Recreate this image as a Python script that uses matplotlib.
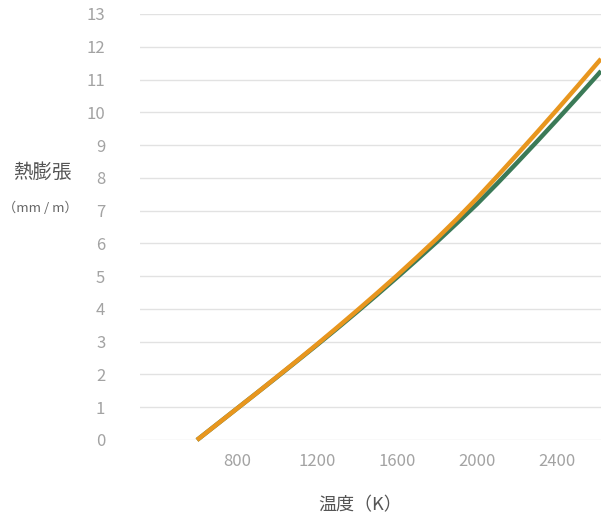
import matplotlib
matplotlib.use("Agg")
import matplotlib.pyplot as plt

plt.rcParams['font.family'] = ['Noto Sans CJK JP', 'DejaVu Sans']

# temperature (K) and thermal expansion (mm/m)
temps = [600, 700, 800, 900, 1000, 1100, 1200, 1300, 1400, 1500, 1600,
         1700, 1800, 1900, 2000, 2100, 2200, 2300, 2400, 2500, 2600, 2620]
green_vals = [0, 0.48, 0.96, 1.44, 1.92, 2.41, 2.90, 3.40, 3.91, 4.43, 4.96,
              5.50, 6.05, 6.62, 7.20, 7.82, 8.46, 9.11, 9.77, 10.44, 11.12, 11.26]
orange_vals = [0, 0.48, 0.96, 1.44, 1.93, 2.42, 2.92, 3.43, 3.95, 4.48, 5.02,
               5.58, 6.15, 6.75, 7.38, 8.04, 8.71, 9.39, 10.08, 10.78, 11.49, 11.63]

x_ticks = [800, 1200, 1600, 2000, 2400]
y_ticks = list(range(0, 14))

GREEN = '#3b7a57'
ORANGE = '#e8961e'
TICK_GRAY = '#a3a3a3'

fig = plt.figure(figsize=(6.01, 5.20), dpi=100)
ax = fig.add_axes([140 / 601, (520 - 440) / 520, (601 - 140) / 601, (440 - 14) / 520])

ax.plot(temps, green_vals, color=GREEN, linewidth=3.2, solid_joinstyle='round',
        solid_capstyle='butt', clip_on=False, zorder=3)
ax.plot(temps, orange_vals, color=ORANGE, linewidth=3.2, solid_joinstyle='round',
        solid_capstyle='butt', clip_on=False, zorder=4)

ax.set_xlim(315, 2620)
ax.set_ylim(0, 13)
ax.set_xticks(x_ticks)
ax.set_yticks(y_ticks)
ax.grid(axis='y', color='#e2e2e2', linewidth=1.0)
ax.set_axisbelow(True)
for s in ax.spines.values():
    s.set_visible(False)
ax.tick_params(axis='both', length=0, colors=TICK_GRAY, labelsize=12)
ax.tick_params(axis='y', pad=25)
ax.tick_params(axis='x', pad=9)

fig.text(42 / 601, 1 - 172 / 520, '熱膨張', ha='center', va='center', fontsize=14, color='#555555')
fig.text(40 / 601, 1 - 208 / 520, '（mm / m）', ha='center', va='center', fontsize=9.5, color='#666666')
fig.text(360 / 601, 1 - 505 / 520, '温度（K）', ha='center', va='center', fontsize=13, color='#555555')

fig.savefig('out.png', dpi=100)
